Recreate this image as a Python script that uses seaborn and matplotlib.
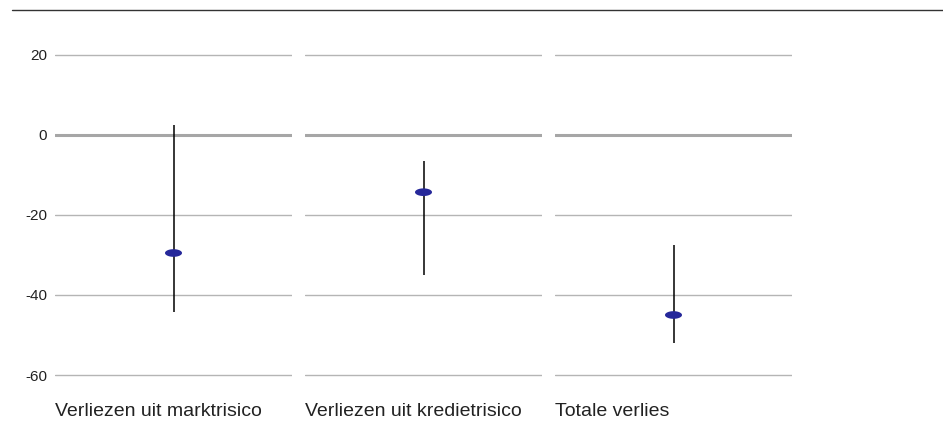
import numpy as np
import pandas as pd
import seaborn as sns
import matplotlib.pyplot as plt
from matplotlib.path import Path
from matplotlib.lines import Line2D

# Data
categories = ["Verliezen uit marktrisico", "Verliezen uit kredietrisico", "Totale verlies"]
estimate = [-29.5, -14.3, -45.0]
low = [-44.3, -35.0, -52.0]
high = [2.5, -6.5, -27.5]
yticks = [20, 0, -20, -40, -60]

df = pd.DataFrame({"categorie": categories, "schatting": estimate,
                   "laag": low, "hoog": high})

sns.set_style("white")
plt.rcParams["font.family"] = ["Liberation Sans", "DejaVu Sans"]

# flat ellipse marker
t = np.linspace(0, 2 * np.pi, 60)
ellipse = Path(np.column_stack([np.cos(t), 0.45 * np.sin(t)]))

fig = plt.figure(figsize=(9.43, 4.23), dpi=100)
lefts = [55, 305, 555]
width = 237
bottom = (423 - 383) / 423
height = (383 - 47) / 423

for i, row in df.iterrows():
    ax = fig.add_axes([lefts[i] / 943, bottom, width / 943, height])
    for y in yticks:
        if y == 0:
            ax.axhline(y, color="#a6a6a6", lw=2.2, zorder=1)
        else:
            ax.axhline(y, color="#b5b5b5", lw=1.0, zorder=1)
    ax.vlines(0, row["laag"], row["hoog"], color="black", lw=1.1, zorder=2)
    sns.scatterplot(x=[0], y=[row["schatting"]], ax=ax, marker=ellipse,
                    s=150, color="#26289a", edgecolor="none", zorder=3)
    ax.set_xlim(-0.5, 0.5)
    ax.set_ylim(-62, 22)
    ax.set_xticks([])
    sns.despine(ax=ax, left=True, bottom=True)
    if i == 0:
        ax.set_yticks(yticks)
        ax.set_yticklabels([str(v) for v in yticks], fontsize=11, color="#222222")
        ax.tick_params(axis="y", length=0, pad=5.5)
    else:
        ax.set_yticks([])
    ax.set_xlabel("")
    ax.set_ylabel("")
    ax.text(0.0, -0.085, row["categorie"], transform=ax.transAxes,
            ha="left", va="center", fontsize=14, color="#222222")

fig.add_artist(Line2D([12 / 943, 1], [413 / 423, 413 / 423],
                      transform=fig.transFigure, color="#333333", lw=1.0))

fig.savefig("out.png", dpi=100)
